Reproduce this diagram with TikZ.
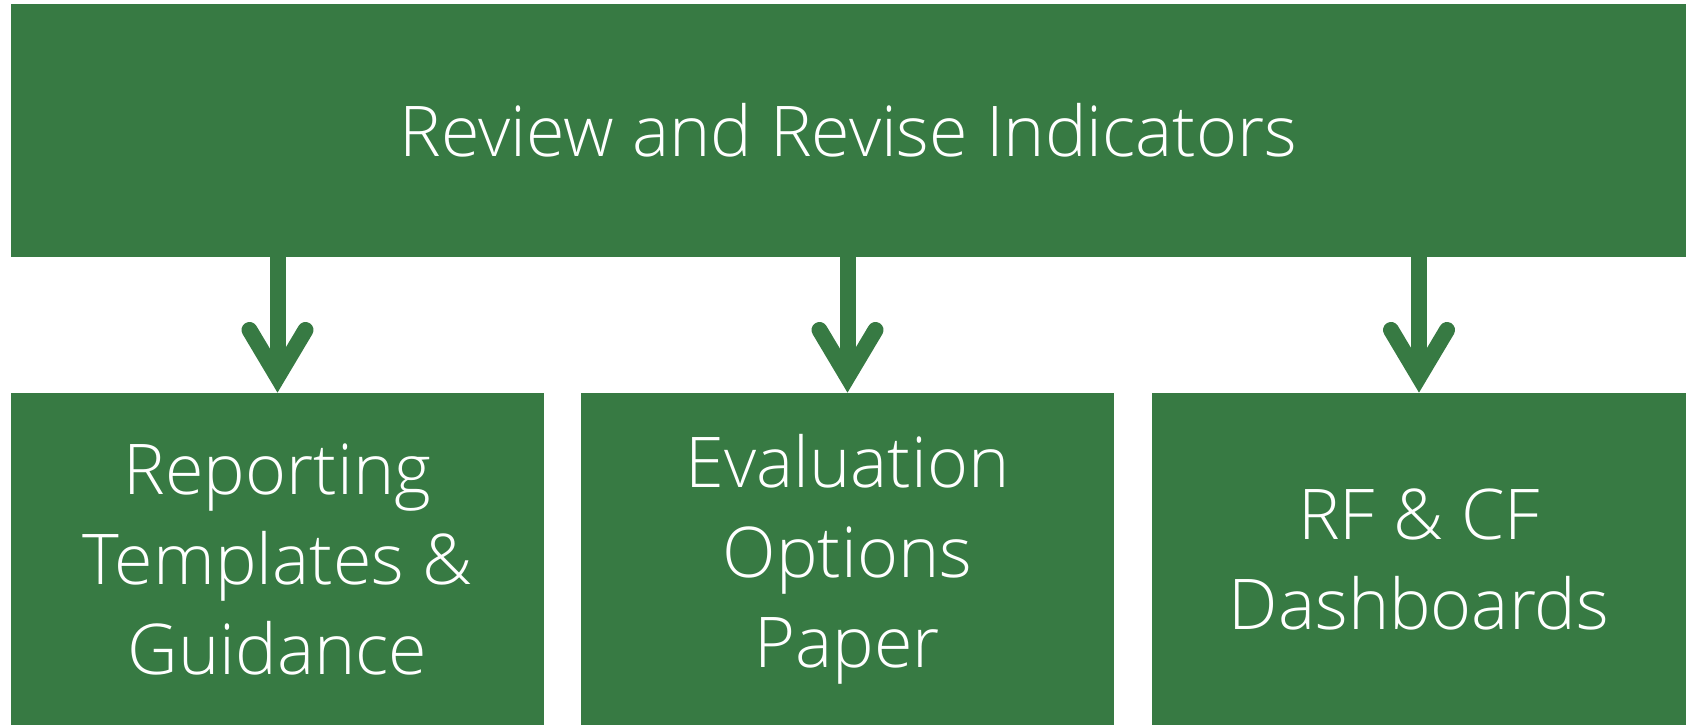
\documentclass[tikz,border=0pt]{standalone}
\usepackage{fontspec}
\setmainfont{Open Sans}[UprightFont=* Light]
\usetikzlibrary{positioning}
\definecolor{boxgreen}{RGB}{55,122,67}
\tikzset{
  box/.style={fill=boxgreen, text=white, inner sep=0pt, outer sep=0pt, align=center,
    font=\fontsize{35}{45}\selectfont},
  link/.style={draw=boxgreen, line width=8pt},
  barb/.style={draw=boxgreen, line width=8pt, line cap=round, line join=miter}
}
\begin{document}
\begin{tikzpicture}[x=0.5pt, y=-0.5pt]
  \useasboundingbox (0,0) rectangle (1691,726);
  \node [box, minimum width=837.5pt, minimum height=126.5pt] (rev) at (848.5,130.75) {Review and Revise Indicators};
  \node [box, minimum width=266.5pt, minimum height=166pt] (rep) at (277.5,559) {Reporting\\Templates \&\\Guidance};
  \node [box, right=18.5pt of rep, minimum width=266.5pt, minimum height=166pt] (eva) {Evaluation\\Options\\Paper};
  \node [box, right=19pt of eva, minimum width=267pt, minimum height=166pt] (dash) {RF \& CF\\Dashboards};

  \foreach \b in {rep,eva,dash}{
    \draw [link, shorten >=8pt] (rev.south -| \b.north) -- (\b.north);
    \draw [barb] ([shift={(-28,-63)}]\b.north) -- ([shift={(0,-16)}]\b.north) -- ([shift={(28,-63)}]\b.north);
  }
\end{tikzpicture}
\end{document}
